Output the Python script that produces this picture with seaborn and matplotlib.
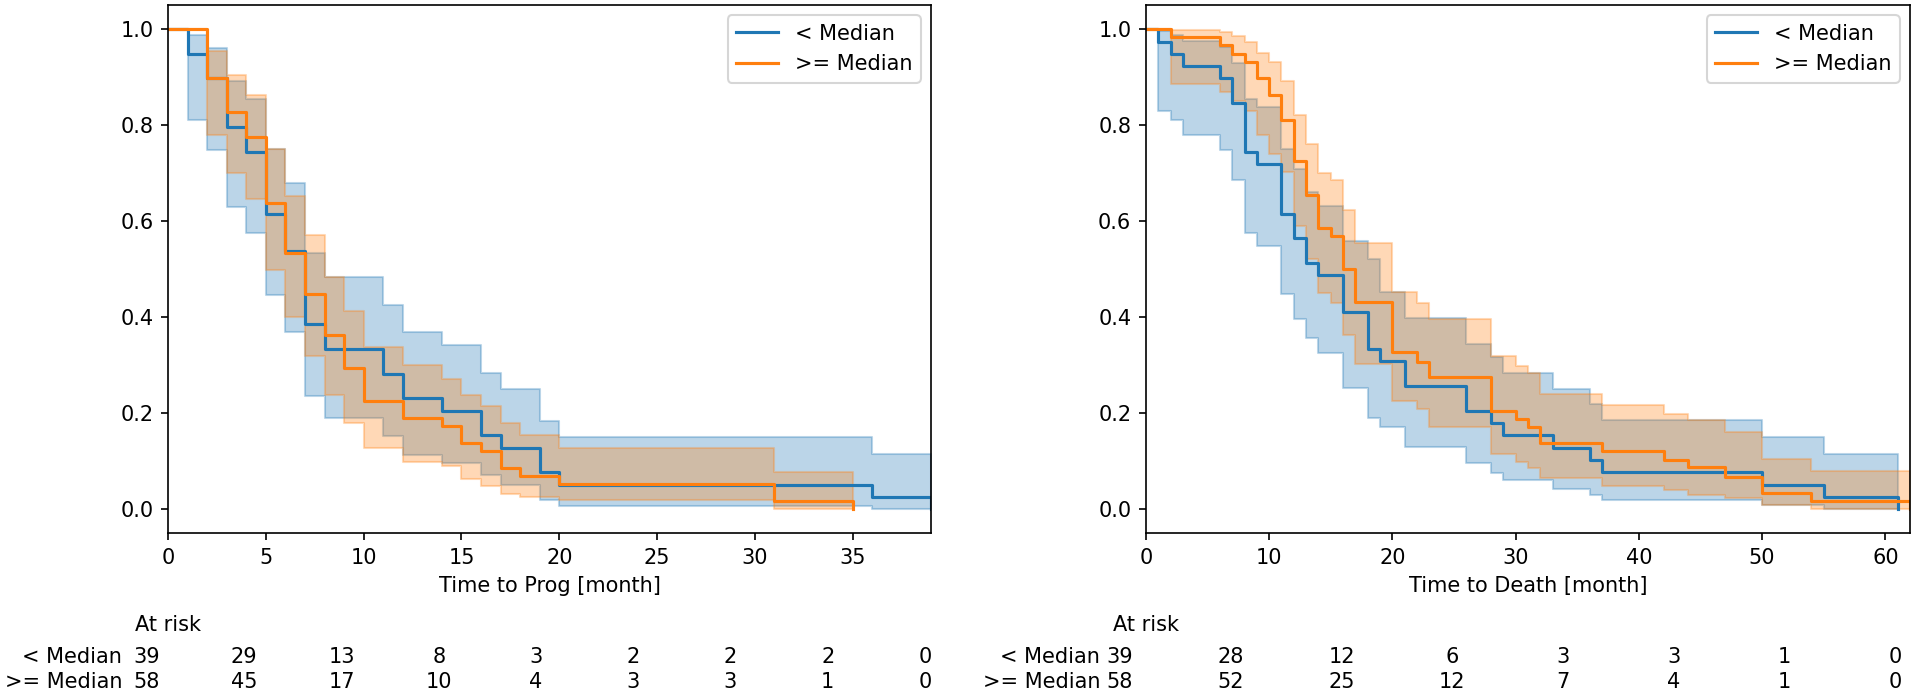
import numpy as np
import matplotlib
matplotlib.use("Agg")
import matplotlib.pyplot as plt
import matplotlib.transforms as mtransforms
import seaborn as sns

# --- Time to Prog, < Median ---
prog_lo_t = [0, 1, 2, 3, 4, 5, 6, 7, 8, 11, 12, 14, 16, 17, 19, 20, 36, 39]
prog_lo_s = [1.0, 0.949, 0.897, 0.795, 0.744, 0.615, 0.538, 0.385, 0.333, 0.282, 0.231,
             0.205, 0.154, 0.128, 0.077, 0.051, 0.026, 0.0]
prog_lo_hi = [1.0, 0.987, 0.961, 0.892, 0.855, 0.749, 0.680, 0.533, 0.483, 0.426, 0.369,
              0.341, 0.283, 0.251, 0.184, 0.149, 0.114, 0.114]
prog_lo_lo = [1.0, 0.81, 0.747, 0.63, 0.575, 0.445, 0.369, 0.235, 0.190, 0.153, 0.113,
              0.095, 0.07, 0.05, 0.019, 0.006, 0.0, 0.0]

# --- Time to Prog, >= Median ---
prog_hi_t = [0, 2, 3, 4, 5, 6, 7, 8, 9, 10, 12, 14, 15, 16, 17, 18, 20, 31, 35]
prog_hi_s = [1.0, 0.897, 0.828, 0.776, 0.638, 0.534, 0.448, 0.362, 0.293, 0.224, 0.190,
             0.172, 0.138, 0.121, 0.086, 0.069, 0.052, 0.017, 0.0]
prog_hi_hi = [1.0, 0.954, 0.905, 0.862, 0.749, 0.653, 0.570, 0.483, 0.412, 0.337, 0.300,
              0.270, 0.237, 0.215, 0.180, 0.155, 0.127, 0.078, 0.078]
prog_hi_lo = [1.0, 0.78, 0.70, 0.645, 0.498, 0.399, 0.319, 0.237, 0.180, 0.128, 0.097,
              0.09, 0.063, 0.048, 0.031, 0.025, 0.018, 0.0, 0.0]

# --- Time to Death, < Median ---
death_lo_t = [0, 1, 2, 3, 6, 7, 8, 9, 11, 12, 13, 14, 16, 18, 19, 21, 26, 28, 29, 33,
              36, 37, 50, 55, 61]
death_lo_s = [1.0, 0.974, 0.949, 0.923, 0.897, 0.846, 0.744, 0.718, 0.615, 0.564, 0.513,
              0.487, 0.410, 0.333, 0.308, 0.256, 0.205, 0.179, 0.154, 0.128, 0.103,
              0.077, 0.051, 0.026, 0.0]
death_lo_hi = [1.0, 0.996, 0.987, 0.975, 0.962, 0.93, 0.854, 0.837, 0.75, 0.708, 0.66,
               0.632, 0.559, 0.52, 0.452, 0.398, 0.343, 0.317, 0.283, 0.25, 0.218,
               0.185, 0.15, 0.115, 0.115]
death_lo_lo = [1.0, 0.83, 0.81, 0.78, 0.747, 0.686, 0.575, 0.548, 0.447, 0.395, 0.356,
               0.324, 0.253, 0.19, 0.171, 0.13, 0.095, 0.075, 0.06, 0.041, 0.030,
               0.019, 0.008, 0.0, 0.0]

# --- Time to Death, >= Median ---
death_hi_t = [0, 2, 6, 7, 8, 9, 10, 11, 12, 13, 14, 15, 16, 17, 20, 22, 23, 28, 30, 31,
              32, 37, 42, 44, 47, 50, 54, 62]
death_hi_s = [1.0, 0.983, 0.966, 0.948, 0.931, 0.897, 0.862, 0.810, 0.724, 0.655, 0.586,
              0.569, 0.500, 0.431, 0.328, 0.307, 0.274, 0.205, 0.188, 0.171, 0.138,
              0.121, 0.103, 0.088, 0.067, 0.034, 0.016, 0.0]
death_hi_hi = [1.0, 0.998, 0.993, 0.985, 0.972, 0.951, 0.931, 0.892, 0.821, 0.761, 0.70,
               0.685, 0.622, 0.555, 0.452, 0.429, 0.395, 0.318, 0.298, 0.283, 0.239,
               0.216, 0.198, 0.185, 0.16, 0.104, 0.079, 0.079]
death_hi_lo = [1.0, 0.885, 0.868, 0.849, 0.83, 0.779, 0.74, 0.703, 0.59, 0.52, 0.45,
               0.43, 0.363, 0.302, 0.225, 0.209, 0.171, 0.115, 0.097, 0.086, 0.064,
               0.048, 0.040, 0.030, 0.023, 0.008, 0.0, 0.0]

# at risk tables
prog_risk_t = [0, 5, 10, 15, 20, 25, 30, 35, 40]
prog_risk_lo = [39, 29, 13, 8, 3, 2, 2, 2, 0]
prog_risk_hi = [58, 45, 17, 10, 4, 3, 3, 1, 0]
death_risk_t = [0, 10, 20, 30, 40, 50, 60, 70]
death_risk_lo = [39, 28, 12, 6, 3, 3, 1, 0]
death_risk_hi = [58, 52, 25, 12, 7, 4, 1, 0]

group_names = ["< Median", ">= Median"]
colors = sns.color_palette("tab10")[:2]

fig = plt.figure(figsize=(1914 / 150, 698 / 150), dpi=150)
ax1 = fig.add_axes([0.0878, 0.2364, 0.3986, 0.7564])
ax2 = fig.add_axes([0.5987, 0.2364, 0.3992, 0.7564])


def km_panel(ax, curves, xmax, xlabel):
    for (t, s, lo, hi), name, c in zip(curves, group_names, colors):
        ax.fill_between(t, lo, hi, step="post", alpha=0.3, color=c, linewidth=1.0)
        sns.lineplot(x=t, y=s, drawstyle="steps-post", color=c, linewidth=1.5,
                     label=name, ax=ax)
    ax.set_xlim(0, xmax)
    ax.set_ylim(-0.05, 1.05)
    ax.set_xlabel(xlabel)
    ax.set_ylabel("")
    ax.legend(loc="upper right")


def risk_table(ax, times, rows, tab_xlim):
    tab = fig.add_axes(ax.get_position(), frameon=False, label="risk_" + ax.get_xlabel())
    tab.set_xlim(*tab_xlim)
    tab.set_axis_off()
    tr_num = mtransforms.blended_transform_factory(tab.transData, fig.transFigure)
    tr_lab = mtransforms.blended_transform_factory(ax.transAxes, fig.transFigure)
    ax.text(0.0, 1 - 625 / 698, "At risk", transform=tr_lab, ha="center", va="center")
    for row, name, yy in zip(rows, group_names, [1 - 657 / 698, 1 - 682 / 698]):
        ax.text(-0.060, yy, name, transform=tr_lab, ha="right", va="center")
        for t, n in zip(times, row):
            tab.text(t, yy, str(n), transform=tr_num, ha="center", va="center")


km_panel(ax1, [(prog_lo_t, prog_lo_s, prog_lo_lo, prog_lo_hi),
               (prog_hi_t, prog_hi_s, prog_hi_lo, prog_hi_hi)], 39, "Time to Prog [month]")
km_panel(ax2, [(death_lo_t, death_lo_s, death_lo_lo, death_lo_hi),
               (death_hi_t, death_hi_s, death_hi_lo, death_hi_hi)], 62, "Time to Death [month]")

risk_table(ax1, prog_risk_t, [prog_risk_lo, prog_risk_hi], (1.08, 40.31))
risk_table(ax2, death_risk_t, [death_risk_lo, death_risk_hi], (2.34, 71.34))

fig.savefig("out.png", dpi=150)
